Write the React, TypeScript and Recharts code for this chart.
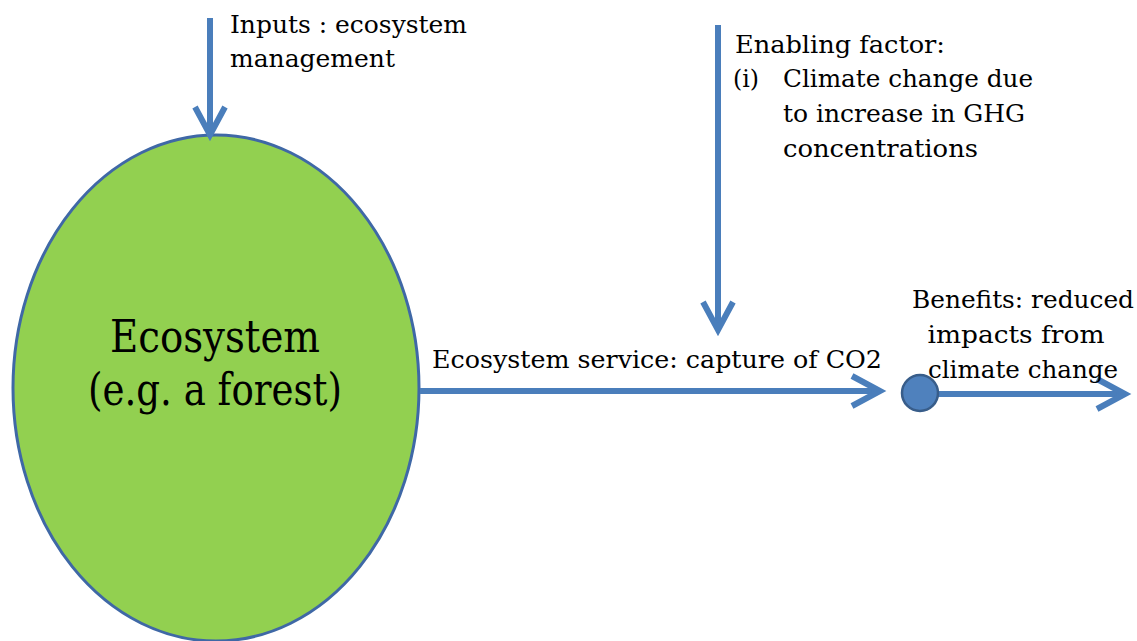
import React from 'react';
import { ScatterChart, Scatter, XAxis, YAxis } from 'recharts';

// diagram coordinates are in page pixels: x to the right, y downwards
const arrowNames = ['inputs', 'enabling', 'service', 'benefits'];
const arrowFromX = [210, 718, 420, 938];
const arrowFromY = [18, 25, 391, 394];
const arrowToX = [210, 718, 880, 1125];
const arrowToY = [135, 330, 391, 394];

const ecosystemNode = [{ x: 216, y: 388, rx: 203, ry: 253 }];
const benefitNode = [{ x: 920, y: 393, r: 18 }];

const labelLines = [
  'Inputs : ecosystem',
  'management',
  'Enabling factor:',
  '(i)',
  'Climate change due',
  'to increase in GHG',
  'concentrations',
  'Ecosystem',
  '(e.g. a forest)',
  'Ecosystem service: capture of CO2',
  'Benefits: reduced',
  'impacts from',
  'climate change',
];
const labelX = [230, 230, 735, 733, 783, 783, 783, 215, 215, 432, 1023, 1016, 1023];
const labelY = [33, 67, 53, 87, 87, 122, 157, 352, 405, 368, 308, 343, 378];
const labelWidth = [237, 165, 210, 26, 250, 242, 195, 210, 254, 450, 222, 177, 190];
const labelBig = [false, false, false, false, false, false, false, true, true, false, false, false, false];
const labelCentered = [false, false, false, false, false, false, false, true, true, false, true, true, true];

const W = 1137;
const H = 641;
const BLUE = '#4a7ebb';

const labels = labelLines.map((text, i) => ({
  x: labelX[i],
  y: labelY[i],
  text,
  width: labelWidth[i],
  big: labelBig[i],
  centered: labelCentered[i],
}));

// V-shaped open arrowhead: wing, tip, wing
const headPoints = (i: number) => {
  const dx = arrowToX[i] - arrowFromX[i];
  const dy = arrowToY[i] - arrowFromY[i];
  const len = Math.sqrt(dx * dx + dy * dy);
  const ux = dx / len;
  const uy = dy / len;
  const back = 28;
  const half = 15;
  const tipX = arrowToX[i];
  const tipY = arrowToY[i];
  return [
    { x: tipX - ux * back - uy * half, y: tipY - uy * back + ux * half },
    { x: tipX, y: tipY },
    { x: tipX - ux * back + uy * half, y: tipY - uy * back - ux * half },
  ];
};

const Nothing = () => <g />;

const EllipseShape = (props: any) => {
  const { cx, cy, payload } = props;
  return (
    <ellipse cx={cx} cy={cy} rx={payload.rx} ry={payload.ry} fill="#92d050" stroke="#3f68a6" strokeWidth={3} />
  );
};

const DotShape = (props: any) => {
  const { cx, cy, payload } = props;
  return <circle cx={cx} cy={cy} r={payload.r} fill="#4f81bd" stroke="#385d8a" strokeWidth={2.5} />;
};

const LabelShape = (props: any) => {
  const { cx, cy, payload } = props;
  return (
    <text
      x={cx}
      y={cy}
      textAnchor={payload.centered ? 'middle' : 'start'}
      fontFamily="'DejaVu Serif Condensed', 'DejaVu Serif', serif"
      fontSize={payload.big ? 44 : 24}
      fill="#000"
      textLength={payload.width}
      lengthAdjust="spacingAndGlyphs"
    >
      {payload.text}
    </text>
  );
};

const App: React.FC = () => {
  return (
    <div style={{ position: 'fixed', left: 0, top: 0, width: W, height: H, background: '#fff' }}>
      <ScatterChart width={W} height={H} margin={{ top: 0, right: 0, bottom: 0, left: 0 }}>
        <XAxis type="number" dataKey="x" domain={[0, W]} hide allowDataOverflow />
        <YAxis type="number" dataKey="y" domain={[0, H]} reversed hide allowDataOverflow width={0} />

        <Scatter data={ecosystemNode} shape={EllipseShape} isAnimationActive={false} />

        {arrowNames.map((name, i) => (
          <Scatter
            key={name + '-shaft'}
            data={[
              { x: arrowFromX[i], y: arrowFromY[i] },
              { x: arrowToX[i] - (arrowToX[i] - arrowFromX[i] === 0 ? 0 : 3), y: arrowToY[i] - (arrowToY[i] - arrowFromY[i] === 0 ? 0 : 3) },
            ]}
            line={{ stroke: BLUE, strokeWidth: 6 }}
            lineType="joint"
            shape={Nothing}
            isAnimationActive={false}
          />
        ))}
        {arrowNames.map((name, i) => (
          <Scatter
            key={name + '-head'}
            data={headPoints(i)}
            line={{ stroke: BLUE, strokeWidth: 6, strokeLinejoin: 'miter', fill: 'none' }}
            lineType="joint"
            shape={Nothing}
            isAnimationActive={false}
          />
        ))}

        <Scatter data={labels} shape={LabelShape} isAnimationActive={false} />
        <Scatter data={benefitNode} shape={DotShape} isAnimationActive={false} />
      </ScatterChart>
    </div>
  );
};

export default App;
